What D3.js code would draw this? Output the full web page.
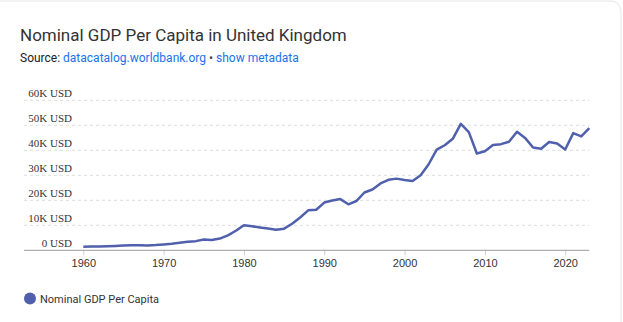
<!DOCTYPE html>
<html>
<head>
<meta charset="utf-8">
<script src="https://cdn.jsdelivr.net/npm/d3@7"></script>
<style>
  body { margin: 0; background: #fff; }
  svg { display: block; }
</style>
</head>
<body>
<div id="chart"></div>
<script>
// years and GDP per capita (current USD)
var years = [1960,1961,1962,1963,1964,1965,1966,1967,1968,1969,
             1970,1971,1972,1973,1974,1975,1976,1977,1978,1979,
             1980,1981,1982,1983,1984,1985,1986,1987,1988,1989,
             1990,1991,1992,1993,1994,1995,1996,1997,1998,1999,
             2000,2001,2002,2003,2004,2005,2006,2007,2008,2009,
             2010,2011,2012,2013,2014,2015,2016,2017,2018,2019,
             2020,2021,2022,2023];
var gdp = [1398,1472,1525,1613,1748,1874,1980,2058,1952,2100,
           2348,2650,3030,3426,3666,4300,4138,4682,5977,7805,
           10032,9599,9146,8692,8179,8652,10611,13118,15987,16239,
           19095,19900,20487,18389,19709,23123,24332,26734,28214,28669,
           28150,27744,30057,34420,40290,42030,44599,50567,47287,38713,
           39599,42110,42463,43445,47440,44964,41146,40620,43307,42747,
           40318,46870,45564,48867];
var yTicks = [0,10000,20000,30000,40000,50000,60000];
var xTicks = [1960,1970,1980,1990,2000,2010,2020];
var seriesName = "Nominal GDP Per Capita";

var W = 623, H = 322;
var svg = d3.select("#chart").append("svg")
  .attr("width", W).attr("height", H);

// card outline
svg.append("rect")
  .attr("x", -12).attr("y", 1).attr("width", W + 10).attr("height", H + 20)
  .attr("rx", 10).attr("fill", "#fff").attr("stroke", "#e6e6e6");

// title + source
svg.append("text").attr("x", 20).attr("y", 41)
  .style("font-family", "Roboto, 'Noto Sans', sans-serif")
  .style("font-size", "17px").style("fill", "#333")
  .text("Nominal GDP Per Capita in United Kingdom");

var src = svg.append("text").attr("x", 20).attr("y", 62)
  .style("font-family", "Roboto, 'Noto Sans', sans-serif")
  .style("font-size", "12px").style("fill", "#222");
src.append("tspan").text("Source: ");
src.append("tspan").style("fill", "#1a73e8").text("datacatalog.worldbank.org");
src.append("tspan").style("fill", "#444").text(" \u2022 ");
src.append("tspan").style("fill", "#1a73e8").text("show metadata");

// scales
var x = d3.scaleLinear().domain([1960, 2023]).range([83.3, 589.3]);
var y = d3.scaleLinear().domain([0, 60000]).range([250.3, 100.3]);
var left = 24, right = 589.3;

// grid lines
svg.append("g").selectAll("line")
  .data(yTicks.filter(function(d){ return d > 0; }))
  .enter().append("line")
  .attr("x1", left).attr("x2", right)
  .attr("y1", function(d){ return y(d); }).attr("y2", function(d){ return y(d); })
  .attr("stroke", "#dcdcdc").attr("stroke-dasharray", "3,3");

// y labels sit above their grid line
svg.append("g").selectAll("text")
  .data(yTicks).enter().append("text")
  .attr("x", 72).attr("y", function(d){ return y(d) - 3.5; })
  .attr("text-anchor", "end")
  .style("font-family", "'Liberation Serif', 'Times New Roman', serif")
  .style("font-size", "11px").style("fill", "#333")
  .text(function(d){ return d === 0 ? "0 USD" : (d / 1000) + "K USD"; });

// x axis
var xAxis = svg.append("g")
  .attr("transform", "translate(0," + y(0) + ")")
  .call(d3.axisBottom(x).tickValues(xTicks).tickFormat(d3.format("d")).tickSize(5).tickPadding(4));
xAxis.select(".domain").remove();
xAxis.append("line").attr("x1", left).attr("x2", right)
  .attr("stroke", "#9a9a9a");
xAxis.selectAll(".tick line").attr("stroke", "#d0d0d0");
xAxis.selectAll(".tick text")
  .style("font-family", "'Liberation Sans', Arial, sans-serif")
  .style("font-size", "11px").style("fill", "#333");

// the series
var line = d3.line()
  .x(function(d, i){ return x(years[i]); })
  .y(function(d){ return y(d); });
svg.append("path").datum(gdp)
  .attr("d", line)
  .attr("fill", "none")
  .attr("stroke", "#5060ad")
  .attr("stroke-width", 2.5)
  .attr("stroke-linejoin", "round");

// legend
svg.append("circle").attr("cx", 30).attr("cy", 298.5).attr("r", 6)
  .attr("fill", "#5060ad");
svg.append("text").attr("x", 40).attr("y", 302.5)
  .style("font-family", "Roboto, 'Noto Sans', sans-serif")
  .style("font-size", "11px").style("fill", "#333")
  .text(seriesName);
</script>
</body>
</html>
